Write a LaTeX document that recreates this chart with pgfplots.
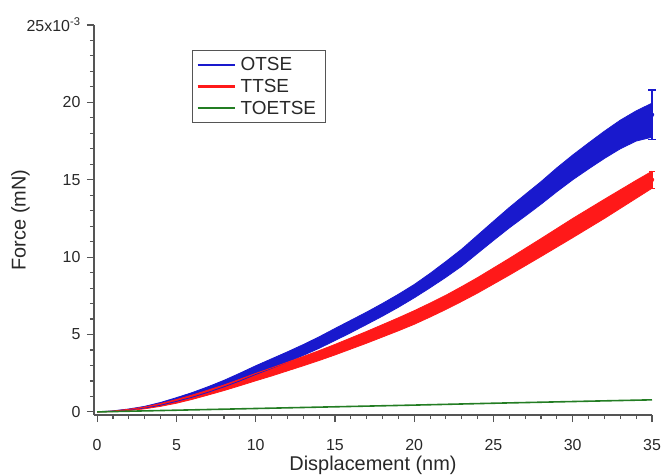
\documentclass[border=0pt]{standalone}
\usepackage{pgfplots}
\pgfplotsset{compat=1.18}
\usepgfplotslibrary{fillbetween}
\usepackage{fontspec}
\setmainfont{Liberation Sans}
\definecolor{cblue}{RGB}{25,25,205}
\definecolor{cred}{RGB}{255,25,25}
\definecolor{cgreen}{RGB}{35,125,35}
\definecolor{axgray}{RGB}{85,85,85}
\definecolor{txt}{RGB}{40,40,40}
\begin{document}
\begin{tikzpicture}
\begin{axis}[
  scale only axis, width=558bp, height=390bp,
  xmin=-0.2, xmax=35, ymin=-0.2, ymax=25,
  axis lines=left, axis line style={-, axgray, line width=1.1bp},
  tick align=outside, major tick length=7bp, minor tick length=4bp,
  every tick/.style={axgray, line width=1.1bp},
  xtick={0,5,...,35}, ytick={0,5,...,25},
  yticklabels={0,5,10,15,20,25x10\textsuperscript{-3}},
  minor x tick num=4, minor y tick num=4,
  /pgf/number format/assume math mode=true,
  tick label style={font=\fontsize{16}{18}\selectfont, text=txt},
  xticklabel style={yshift=-14bp},
  yticklabel style={xshift=-3bp},
  xlabel={Displacement (nm)}, ylabel={Force (mN)},
  label style={font=\fontsize{20}{22}\selectfont, text=txt},
  xlabel style={yshift=2bp},
  ylabel style={yshift=-10bp},
  legend image code/.code={\draw[#1] (0bp,0bp) -- (37bp,0bp);},
  legend style={at={(0.1756,0.936)}, anchor=north west, draw=axgray, line width=1bp,
    font=\fontsize{19}{21}\selectfont, text=txt, inner xsep=4bp, inner ysep=5bp, row sep=3bp,
    nodes={inner xsep=5bp}},
  legend cell align=left,
  clip=false,
]
\addlegendimage{cblue, line width=2.2bp}
\addlegendentry{OTSE}
\addlegendimage{cred, line width=2.2bp}
\addlegendentry{TTSE}
\addlegendimage{cgreen, line width=2.2bp}
\addlegendentry{TOETSE}

% Blue band (OTSE)
\addplot[name path=blo, cblue, line width=0.8bp, forget plot] table[x index=0, y index=1] {
0 0
1 0.03
2 0.11
3 0.24
4 0.43
5 0.68
6 0.95
7 1.27
8 1.62
9 2.00
10 2.42
11 2.81
12 3.22
13 3.65
14 4.11
15 4.61
16 5.12
17 5.65
18 6.19
19 6.76
20 7.37
21 8.02
22 8.70
23 9.42
24 10.25
25 11.08
26 11.89
27 12.65
28 13.42
29 14.23
30 15.00
31 15.70
32 16.38
33 17.00
34 17.50
35 17.75
};
\addplot[name path=bhi, cblue, line width=0.8bp, forget plot] table[x index=0, y index=1] {
0 0
1 0.07
2 0.19
3 0.36
4 0.61
5 0.92
6 1.25
7 1.63
8 2.04
9 2.50
10 2.98
11 3.43
12 3.88
13 4.35
14 4.85
15 5.39
16 5.92
17 6.45
18 7.01
19 7.60
20 8.23
21 8.95
22 9.72
23 10.52
24 11.42
25 12.32
26 13.21
27 14.05
28 14.88
29 15.77
30 16.60
31 17.38
32 18.14
33 18.85
34 19.45
35 19.95
};
\addplot[cblue, forget plot] fill between[of=blo and bhi];

% Red band (TTSE)
\addplot[name path=rlo, cred, line width=0.8bp, forget plot] table[x index=0, y index=1] {
0 0
1 0.02
2 0.09
3 0.20
4 0.36
5 0.56
6 0.81
7 1.09
8 1.38
9 1.69
10 2.01
11 2.32
12 2.65
13 2.98
14 3.32
15 3.68
16 4.06
17 4.44
18 4.84
19 5.24
20 5.66
21 6.13
22 6.62
23 7.14
24 7.68
25 8.26
26 8.84
27 9.44
28 10.04
29 10.65
30 11.26
31 11.88
32 12.50
33 13.15
34 13.80
35 14.45
};
\addplot[name path=rhi, cred, line width=0.8bp, forget plot] table[x index=0, y index=1] {
0 0
1 0.06
2 0.17
3 0.32
4 0.54
5 0.80
6 1.09
7 1.41
8 1.74
9 2.11
10 2.49
11 2.84
12 3.21
13 3.58
14 3.96
15 4.36
16 4.78
17 5.20
18 5.64
19 6.08
20 6.54
21 7.03
22 7.54
23 8.10
24 8.68
25 9.30
26 9.92
27 10.56
28 11.20
29 11.85
30 12.50
31 13.12
32 13.74
33 14.35
34 14.96
35 15.55
};
\addplot[cred, forget plot] fill between[of=rlo and rhi];

% Green line (TOETSE)
\addplot[cgreen, line width=1.6bp, forget plot] table {
0 0
5 0.11
10 0.22
15 0.33
20 0.44
25 0.56
30 0.67
35 0.78
};

% End error bars
\addplot[cblue, only marks, mark=none, forget plot,
  error bars/.cd, y dir=both, y explicit,
  error bar style={cblue, line width=1.6bp},
  error mark options={cblue, rotate=90, mark size=4bp, line width=1.6bp}]
  coordinates {(35,19.2) +- (0,1.6)};
\addplot[cred, only marks, mark=none, forget plot,
  error bars/.cd, y dir=both, y explicit,
  error bar style={cred, line width=1.4bp},
  error mark options={cred, rotate=90, mark size=3bp, line width=1.4bp}]
  coordinates {(35,15.0) +- (0,0.55)};

\coordinate (SW) at (rel axis cs:0,0);
\coordinate (NE) at (rel axis cs:1,1);
\end{axis}
\pgfresetboundingbox
\path[use as bounding box] ([xshift=-94bp,yshift=-60bp]SW) rectangle ([xshift=11bp,yshift=25bp]NE);
\end{tikzpicture}
\end{document}
